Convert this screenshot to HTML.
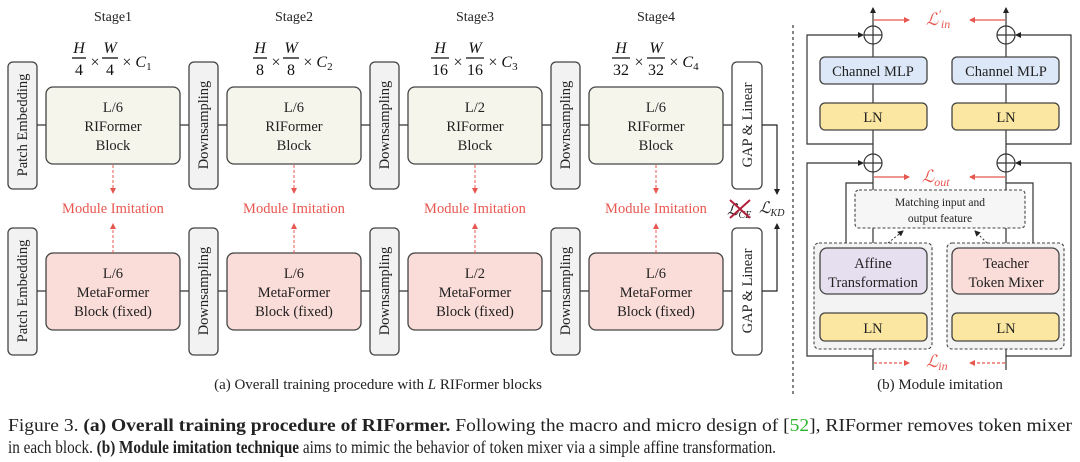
<!DOCTYPE html>
<html><head><meta charset="utf-8"><style>
html,body{margin:0;padding:0;background:#fff}
svg{display:block;font-family:"Liberation Serif",serif}
</style></head><body>
<svg width="1080" height="462" viewBox="0 0 1080 462" xmlns="http://www.w3.org/2000/svg">
<defs>
<marker id="ak" markerWidth="6" markerHeight="6" refX="5" refY="3" orient="auto" markerUnits="userSpaceOnUse"><path d="M0,0 L6,3 L0,6 z" fill="#222"/></marker>
<marker id="ar" markerWidth="6" markerHeight="6" refX="5" refY="3" orient="auto" markerUnits="userSpaceOnUse"><path d="M0,0 L6,3 L0,6 z" fill="#e8574f"/></marker>
</defs>
<g font-size="14" fill="#222" text-anchor="middle">
<text x="113" y="21">Stage1</text><text x="294" y="21">Stage2</text><text x="475" y="21">Stage3</text><text x="656" y="21">Stage4</text>
</g>
<!-- fractions -->
<g font-size="16" fill="#111" font-style="italic" text-anchor="middle">
<g transform="translate(79,0)"><text x="0" y="53">H</text><line x1="-7" y1="58" x2="7" y2="58" stroke="#111" stroke-width="1.3"/><text x="0" y="75" font-style="normal">4</text></g>
<text x="95" y="67" font-style="normal">×</text>
<g transform="translate(110,0)"><text x="0" y="53">W</text><line x1="-8" y1="58" x2="8" y2="58" stroke="#111" stroke-width="1.3"/><text x="0" y="75" font-style="normal">4</text></g>
<text x="137" y="67"><tspan font-style="normal">× </tspan>C<tspan font-size="11" font-style="normal" dy="3">1</tspan></text>

<g transform="translate(260,0)"><text x="0" y="53">H</text><line x1="-7" y1="58" x2="7" y2="58" stroke="#111" stroke-width="1.3"/><text x="0" y="75" font-style="normal">8</text></g>
<text x="276" y="67" font-style="normal">×</text>
<g transform="translate(291,0)"><text x="0" y="53">W</text><line x1="-8" y1="58" x2="8" y2="58" stroke="#111" stroke-width="1.3"/><text x="0" y="75" font-style="normal">8</text></g>
<text x="318" y="67"><tspan font-style="normal">× </tspan>C<tspan font-size="11" font-style="normal" dy="3">2</tspan></text>

<g transform="translate(440,0)"><text x="0" y="53">H</text><line x1="-9" y1="58" x2="9" y2="58" stroke="#111" stroke-width="1.3"/><text x="0" y="75" font-style="normal">16</text></g>
<text x="458" y="67" font-style="normal">×</text>
<g transform="translate(475,0)"><text x="0" y="53">W</text><line x1="-9" y1="58" x2="9" y2="58" stroke="#111" stroke-width="1.3"/><text x="0" y="75" font-style="normal">16</text></g>
<text x="503" y="67"><tspan font-style="normal">× </tspan>C<tspan font-size="11" font-style="normal" dy="3">3</tspan></text>

<g transform="translate(621,0)"><text x="0" y="53">H</text><line x1="-9" y1="58" x2="9" y2="58" stroke="#111" stroke-width="1.3"/><text x="0" y="75" font-style="normal">32</text></g>
<text x="639" y="67" font-style="normal">×</text>
<g transform="translate(656,0)"><text x="0" y="53">W</text><line x1="-9" y1="58" x2="9" y2="58" stroke="#111" stroke-width="1.3"/><text x="0" y="75" font-style="normal">32</text></g>
<text x="684" y="67"><tspan font-style="normal">× </tspan>C<tspan font-size="11" font-style="normal" dy="3">4</tspan></text>
</g>

<g stroke="#333" stroke-width="1.2">
<line x1="37" y1="125" x2="732" y2="125"/>
<line x1="37" y1="291" x2="732" y2="291"/>
</g>
<g stroke="#444" stroke-width="1.3" fill="#f2f2f2">
<rect x="8" y="62" width="29" height="127" rx="5"/><rect x="8" y="228" width="29" height="127" rx="5"/>
<rect x="189" y="62" width="29" height="127" rx="5"/><rect x="189" y="228" width="29" height="127" rx="5"/>
<rect x="370" y="62" width="29" height="127" rx="5"/><rect x="370" y="228" width="29" height="127" rx="5"/>
<rect x="551" y="62" width="29" height="127" rx="5"/><rect x="551" y="228" width="29" height="127" rx="5"/>
<rect x="732" y="62" width="30" height="127" rx="5" fill="#fff"/><rect x="732" y="228" width="30" height="127" rx="5" fill="#fff"/>
</g>
<g font-size="14.5" fill="#222" text-anchor="middle">
<text transform="translate(27,125) rotate(-90)">Patch Embedding</text>
<text transform="translate(27,291) rotate(-90)">Patch Embedding</text>
<text transform="translate(208,125) rotate(-90)">Downsampling</text>
<text transform="translate(208,291) rotate(-90)">Downsampling</text>
<text transform="translate(389,125) rotate(-90)">Downsampling</text>
<text transform="translate(389,291) rotate(-90)">Downsampling</text>
<text transform="translate(570,125) rotate(-90)">Downsampling</text>
<text transform="translate(570,291) rotate(-90)">Downsampling</text>
<text transform="translate(752,125) rotate(-90)">GAP &amp; Linear</text>
<text transform="translate(752,291) rotate(-90)">GAP &amp; Linear</text>
</g>
<g stroke="#444" stroke-width="1.3">
<rect x="46" y="87" width="134" height="77" rx="7" fill="#f5f5ec"/>
<rect x="227" y="87" width="134" height="77" rx="7" fill="#f5f5ec"/>
<rect x="408" y="87" width="134" height="77" rx="7" fill="#f5f5ec"/>
<rect x="589" y="87" width="134" height="77" rx="7" fill="#f5f5ec"/>
<rect x="46" y="253" width="134" height="77" rx="7" fill="#fadcd8"/>
<rect x="227" y="253" width="134" height="77" rx="7" fill="#fadcd8"/>
<rect x="408" y="253" width="134" height="77" rx="7" fill="#fadcd8"/>
<rect x="589" y="253" width="134" height="77" rx="7" fill="#fadcd8"/>
</g>
<g font-size="14.5" fill="#222" text-anchor="middle">
<text x="113" y="112">L/6</text><text x="113" y="131">RIFormer</text><text x="113" y="150">Block</text>
<text x="294" y="112">L/6</text><text x="294" y="131">RIFormer</text><text x="294" y="150">Block</text>
<text x="475" y="112">L/2</text><text x="475" y="131">RIFormer</text><text x="475" y="150">Block</text>
<text x="656" y="112">L/6</text><text x="656" y="131">RIFormer</text><text x="656" y="150">Block</text>
<text x="113" y="278">L/6</text><text x="113" y="297">MetaFormer</text><text x="113" y="316">Block (fixed)</text>
<text x="294" y="278">L/6</text><text x="294" y="297">MetaFormer</text><text x="294" y="316">Block (fixed)</text>
<text x="475" y="278">L/2</text><text x="475" y="297">MetaFormer</text><text x="475" y="316">Block (fixed)</text>
<text x="656" y="278">L/6</text><text x="656" y="297">MetaFormer</text><text x="656" y="316">Block (fixed)</text>
</g>
<g stroke="#e8574f" stroke-width="1" stroke-dasharray="3,2">
<line x1="113" y1="165" x2="113" y2="193" marker-end="url(#ar)"/><line x1="113" y1="253" x2="113" y2="224" marker-end="url(#ar)"/>
<line x1="294" y1="165" x2="294" y2="193" marker-end="url(#ar)"/><line x1="294" y1="253" x2="294" y2="224" marker-end="url(#ar)"/>
<line x1="475" y1="165" x2="475" y2="193" marker-end="url(#ar)"/><line x1="475" y1="253" x2="475" y2="224" marker-end="url(#ar)"/>
<line x1="656" y1="165" x2="656" y2="193" marker-end="url(#ar)"/><line x1="656" y1="253" x2="656" y2="224" marker-end="url(#ar)"/>
</g>
<g font-size="14.5" fill="#e8574f" text-anchor="middle">
<text x="113" y="213">Module Imitation</text><text x="294" y="213">Module Imitation</text>
<text x="475" y="213">Module Imitation</text><text x="656" y="213">Module Imitation</text>
</g>
<g stroke="#222" stroke-width="1.2" fill="none">
<polyline points="762,125 777,125 777,194" marker-end="url(#ak)"/>
<polyline points="762,291 777,291 777,224" marker-end="url(#ak)"/>
</g>
<text x="727" y="215" font-size="16" font-style="italic" fill="#222">ℒ<tspan font-size="10" dy="3">CE</tspan></text>
<g stroke="#b0203a" stroke-width="2"><line x1="730" y1="200" x2="750" y2="218"/><line x1="750" y1="200" x2="730" y2="218"/></g>
<text x="759" y="213" font-size="16" font-style="italic" fill="#222">ℒ<tspan font-size="10" dy="3">KD</tspan></text>

<line x1="793" y1="25" x2="793" y2="395" stroke="#333" stroke-width="1.2" stroke-dasharray="3,3"/>

<g stroke="#333" stroke-width="1.2" fill="none">
<line x1="873" y1="370" x2="873" y2="8" marker-end="url(#ak)"/>
<line x1="1006" y1="370" x2="1006" y2="8" marker-end="url(#ak)"/>
<polyline points="873,144 807,144 807,35 863,35" marker-end="url(#ak)"/>
<polyline points="1006,144 1071,144 1071,35 1016,35" marker-end="url(#ak)"/>
<polyline points="873,356 807,356 807,163 863,163" marker-end="url(#ak)"/>
<polyline points="1006,356 1071,356 1071,163 1016,163" marker-end="url(#ak)"/>
<polyline points="873,183 846,183 846,248"/>
<polyline points="1006,183 1033,183 1033,248"/>
</g>
<g stroke="#444" stroke-width="1.1" fill="#f3f3f3" stroke-dasharray="3,2">
<rect x="814" y="243" width="118" height="106" rx="5"/>
<rect x="947" y="243" width="117" height="106" rx="5"/>
<rect x="855" y="190" width="170" height="38" rx="4" fill="#f6f6f6"/>
</g>
<g stroke="#333" stroke-width="1" stroke-dasharray="2,2">
<line x1="888" y1="243" x2="903" y2="231" marker-end="url(#ak)"/>
<line x1="987" y1="243" x2="975" y2="231" marker-end="url(#ak)"/>
</g>
<g stroke="#333" stroke-width="1.2" fill="#fff">
<circle cx="873" cy="35" r="9"/><circle cx="1006" cy="35" r="9"/>
<circle cx="873" cy="163" r="9"/><circle cx="1006" cy="163" r="9"/>
</g>
<g stroke="#333" stroke-width="1.2">
<line x1="864" y1="35" x2="882" y2="35"/><line x1="873" y1="26" x2="873" y2="44"/>
<line x1="997" y1="35" x2="1015" y2="35"/><line x1="1006" y1="26" x2="1006" y2="44"/>
<line x1="864" y1="163" x2="882" y2="163"/><line x1="873" y1="154" x2="873" y2="172"/>
<line x1="997" y1="163" x2="1015" y2="163"/><line x1="1006" y1="154" x2="1006" y2="172"/>
</g>
<g stroke="#444" stroke-width="1.3">
<rect x="820" y="57" width="107" height="27" rx="5" fill="#dce8f8"/>
<rect x="952" y="57" width="107" height="27" rx="5" fill="#dce8f8"/>
<rect x="820" y="103" width="107" height="27" rx="5" fill="#fbe7a1"/>
<rect x="952" y="103" width="107" height="27" rx="5" fill="#fbe7a1"/>
<rect x="820" y="248" width="107" height="46" rx="7" fill="#e6dff0"/>
<rect x="952" y="248" width="107" height="46" rx="7" fill="#fadcd8"/>
<rect x="820" y="313" width="107" height="28" rx="5" fill="#fbe7a1"/>
<rect x="952" y="313" width="107" height="28" rx="5" fill="#fbe7a1"/>
</g>
<g font-size="14.5" fill="#222" text-anchor="middle">
<text x="873" y="76">Channel MLP</text><text x="1006" y="76">Channel MLP</text>
<text x="873" y="122">LN</text><text x="1006" y="122">LN</text>
<text x="873" y="268">Affine</text><text x="873" y="287">Transformation</text>
<text x="1006" y="268">Teacher</text><text x="1006" y="287">Token Mixer</text>
<text x="873" y="333">LN</text><text x="1006" y="333">LN</text>
<text x="940" y="206" font-size="11.5">Matching input and</text>
<text x="940" y="222" font-size="11.5">output feature</text>
</g>
<g stroke="#e8574f" stroke-width="1.2">
<line x1="874" y1="20" x2="909" y2="20" marker-end="url(#ar)"/><line x1="1005" y1="20" x2="970" y2="20" marker-end="url(#ar)"/>
<line x1="874" y1="177" x2="909" y2="177" marker-end="url(#ar)"/><line x1="1005" y1="177" x2="970" y2="177" marker-end="url(#ar)"/>
<line x1="874" y1="363" x2="909" y2="363" marker-end="url(#ar)" stroke-dasharray="3,2"/><line x1="1005" y1="363" x2="970" y2="363" marker-end="url(#ar)" stroke-dasharray="3,2"/>
</g>
<g font-size="17" fill="#e8574f" font-style="italic">
<text x="926" y="25">ℒ<tspan font-size="12" dy="-7">′</tspan><tspan font-size="12" dy="10">in</tspan></text>
<text x="922" y="182">ℒ<tspan font-size="12" dy="4">out</tspan></text>
<text x="926" y="367">ℒ<tspan font-size="12" dy="3">in</tspan></text>
</g>

<g font-size="15" fill="#222" text-anchor="middle">
<text x="378" y="389">(a) Overall training procedure with <tspan font-style="italic">L</tspan> RIFormer blocks</text>
<text x="940" y="389">(b) Module imitation</text>
</g>
<g font-size="17.5" fill="#222">
<text x="8" y="431" textLength="1064" lengthAdjust="spacingAndGlyphs">Figure 3. <tspan font-weight="bold">(a) Overall training procedure of RIFormer.</tspan> Following the macro and micro design of [<tspan fill="#2cb52c">52</tspan>], RIFormer removes token mixer</text>
<text x="8" y="453" textLength="768" lengthAdjust="spacingAndGlyphs">in each block. <tspan font-weight="bold">(b) Module imitation technique</tspan> aims to mimic the behavior of token mixer via a simple affine transformation.</text>
</g>
</svg>
</body></html>
